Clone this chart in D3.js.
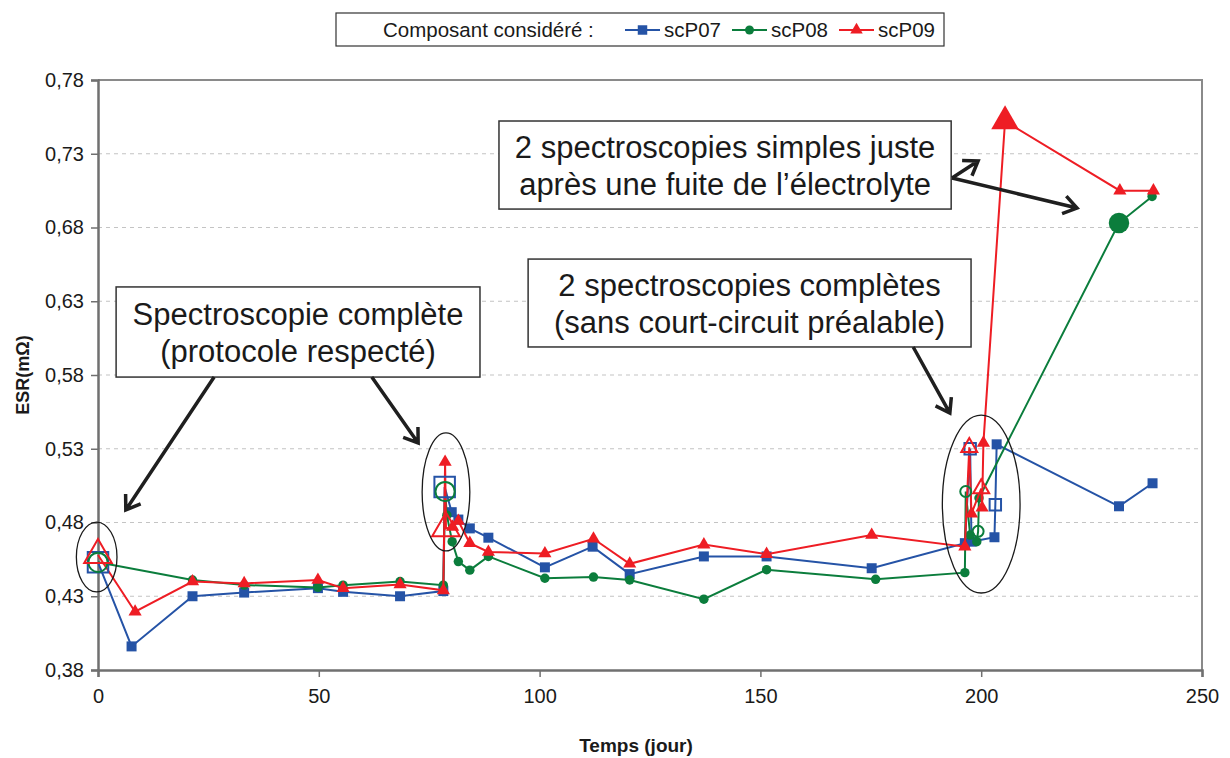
<!DOCTYPE html>
<html><head><meta charset="utf-8">
<script src="https://cdn.jsdelivr.net/npm/d3@7"></script>
<style>body{margin:0;background:#fff} svg{display:block;font-family:"Liberation Sans",Arial,sans-serif}</style>
</head><body><svg id="c" width="1230" height="758"></svg>
<script>
// ---------- data ----------
const xTicks = [0, 50, 100, 150, 200, 250];
const yTicks = [0.38, 0.43, 0.48, 0.53, 0.58, 0.63, 0.68, 0.73, 0.78];
const seriesNames = ["scP07", "scP08", "scP09"];
const legendTitle = "Composant considéré :";
const xTitle = "Temps (jour)";
const yTitle = "ESR(mΩ)";

const days07 = [0, 7.6, 21.4, 33.1, 49.8, 55.5, 68.4, 78.2, 78.5, 80.1, 81.6, 84.2, 88.4, 101.2, 112.0, 120.4, 137.2, 151.4, 175.2, 196.3, 197.5, 197.8, 203.0, 203.2, 203.5, 231.2, 238.8];
const esr07  = [0.453, 0.396, 0.430, 0.4325, 0.4355, 0.433, 0.430, 0.4335, 0.504, 0.487, 0.482, 0.476, 0.4697, 0.4496, 0.4636, 0.445, 0.457, 0.457, 0.449, 0.466, 0.530, 0.467, 0.470, 0.492, 0.533, 0.491, 0.5066];

const days08 = [0, 21.4, 33.1, 49.8, 55.5, 68.4, 78.2, 78.6, 79.0, 80.2, 81.6, 84.2, 88.4, 101.2, 112.2, 120.4, 137.2, 151.4, 176.1, 196.3, 196.5, 197.5, 199.0, 199.3, 199.5, 231.2, 238.7];
const esr08  = [0.453, 0.441, 0.4376, 0.436, 0.4375, 0.440, 0.4375, 0.501, 0.485, 0.467, 0.4535, 0.4477, 0.457, 0.4422, 0.443, 0.441, 0.428, 0.448, 0.4415, 0.446, 0.501, 0.4715, 0.467, 0.474, 0.4966, 0.683, 0.701];

const days09 = [0, 8.4, 21.4, 33.1, 49.8, 55.5, 68.4, 78.2, 78.6, 78.8, 80.3, 81.6, 84.2, 88.4, 101.2, 112.2, 120.4, 137.2, 151.4, 175.2, 196.3, 197.3, 197.8, 200.0, 200.2, 200.5, 205.4, 231.4, 239.0];
const esr09  = [0.458, 0.4195, 0.440, 0.4387, 0.441, 0.4355, 0.438, 0.434, 0.521, 0.476, 0.477, 0.481, 0.466, 0.460, 0.459, 0.469, 0.452, 0.465, 0.4585, 0.4715, 0.4636, 0.531, 0.486, 0.503, 0.490, 0.534, 0.752, 0.705, 0.705];

// indices of measurements that were complete spectroscopies (first campaign / last campaign)
const fullSpectroA07 = [0, 8],  fullSpectroB07 = [20, 23];
const fullSpectroA08 = [0, 7],  fullSpectroB08 = [20, 23];
const fullSpectroA09 = [0, 9],  fullSpectroB09 = [21, 23];
// indices of simple spectroscopies just after electrolyte leak
const leakSpectro07 = [], leakSpectro08 = [25], leakSpectro09 = [26];

const noteTexts = [
  ["Spectroscopie complète", "(protocole respecté)"],
  ["2 spectroscopies complètes", "(sans court-circuit préalable)"],
  ["2 spectroscopies simples juste", "après une fuite de l’électrolyte"]
];

// ---------- layout ----------
const colors = ["#2553a6", "#0b7d3c", "#ee1d24"];
const shapes = [d3.symbolSquare, d3.symbolCircle, d3.symbolTriangle];
const L = 98, R = 1202, T = 80, B = 670;
const svg = d3.select("#c");
const x = d3.scaleLinear().domain([0, 250]).range([L, R]);
const y = d3.scaleLinear().domain([0.38, 0.78]).range([B, T]);
const fmt = v => d3.format(".2f")(v).replace(".", ",");

svg.append("rect").attr("width", 1230).attr("height", 758).attr("fill", "#fff");

// grid
svg.append("g").selectAll("line").data(yTicks.slice(1)).join("line")
  .attr("x1", L).attr("x2", R).attr("y1", d => y(d)).attr("y2", d => y(d))
  .attr("stroke", "#c4c4c4").attr("stroke-width", 1.2).attr("stroke-dasharray", "4,4");

// plot frame (top/right)
svg.append("path").attr("d", `M${L},${T}H${R}V${B}`).attr("fill", "none")
  .attr("stroke", "#8a8a8a").attr("stroke-width", 2);

// axes
const gx = svg.append("g").attr("transform", `translate(0,${B})`)
  .call(d3.axisBottom(x).tickValues(xTicks).tickSize(7).tickPadding(12).tickFormat(d3.format("d")));
const gy = svg.append("g").attr("transform", `translate(${L},0)`)
  .call(d3.axisLeft(y).tickValues(yTicks).tickSize(7).tickPadding(7).tickFormat(fmt));
[gx, gy].forEach(g => {
  g.select(".domain").attr("stroke", "#707070").attr("stroke-width", 2.5);
  g.selectAll(".tick line").attr("stroke", "#707070").attr("stroke-width", 1.5);
  g.selectAll(".tick text").attr("fill", "#1a1a1a").attr("font-size", 20)
    .attr("font-family", '"Liberation Sans",Arial,sans-serif');
});

svg.append("text").attr("x", 636).attr("y", 752).attr("text-anchor", "middle")
  .attr("font-size", 19).attr("font-weight", "bold").attr("fill", "#1a1a1a").text(xTitle);
svg.append("text").attr("transform", "translate(29,375) rotate(-90)").attr("text-anchor", "middle")
  .attr("font-size", 18).attr("font-weight", "bold").attr("fill", "#1a1a1a").text(yTitle);

// series
const series = [
  {days: days07, esr: esr07, fullA: fullSpectroA07, fullB: fullSpectroB07, leak: leakSpectro07},
  {days: days08, esr: esr08, fullA: fullSpectroA08, fullB: fullSpectroB08, leak: leakSpectro08},
  {days: days09, esr: esr09, fullA: fullSpectroA09, fullB: fullSpectroB09, leak: leakSpectro09}
];
const normalSize = [100, 70, 75];
const bigHollow = [420, 290, 330];
const smallHollow = [130, 95, 110];
const bigFilled = [400, 330, 330];
const line = d3.line().x(d => x(d[0])).y(d => y(d[1]));

series.forEach((s, i) => {
  const pts = s.days.map((d, k) => [d, s.esr[k]]);
  const g = svg.append("g");
  g.append("path").attr("d", line(pts)).attr("fill", "none")
    .attr("stroke", colors[i]).attr("stroke-width", 2);
  const hollowIdx = new Set([...s.fullA, ...s.fullB]);
  const leakIdx = new Set(s.leak);
  g.selectAll("path.m").data(pts.filter((p, k) => !hollowIdx.has(k) && !leakIdx.has(k))).join("path")
    .attr("class", "m")
    .attr("transform", p => `translate(${x(p[0])},${y(p[1])})`)
    .attr("d", d3.symbol(shapes[i], normalSize[i]))
    .attr("fill", colors[i]);
  g.selectAll("path.lk").data(s.leak.map(k => pts[k])).join("path")
    .attr("class", "lk")
    .attr("transform", p => `translate(${x(p[0])},${y(p[1])})`)
    .attr("d", d3.symbol(shapes[i], bigFilled[i]))
    .attr("fill", colors[i]);
});
// hollow markers drawn on top
series.forEach((s, i) => {
  const g = svg.append("g");
  const pA = s.fullA.map(k => [s.days[k], s.esr[k]]);
  const pB = s.fullB.map(k => [s.days[k], s.esr[k]]);
  [[pA, bigHollow[i]], [pB, smallHollow[i]]].forEach(([ps, sz]) => {
    g.selectAll(null).data(ps).join("path")
      .attr("transform", p => `translate(${x(p[0])},${y(p[1])})`)
      .attr("d", d3.symbol(shapes[i], sz))
      .attr("fill", "none").attr("stroke", colors[i]).attr("stroke-width", 2);
  });
});

// ellipses (data coords)
const ellipses = [
  {cx: -0.3, cy: 0.4566, rx: 4.6, ry: 0.0237},
  {cx: 78.8, cy: 0.5007, rx: 5.4, ry: 0.040},
  {cx: 200.0, cy: 0.4925, rx: 8.8, ry: 0.0603}
];
svg.append("g").selectAll("ellipse").data(ellipses).join("ellipse")
  .attr("cx", d => x(d.cx)).attr("cy", d => y(d.cy))
  .attr("rx", d => x(d.rx) - x(0)).attr("ry", d => y(0) - y(d.ry))
  .attr("fill", "none").attr("stroke", "#1a1a1a").attr("stroke-width", 1.3);

// annotation boxes (data coords)
const boxes = [
  {x0: 4.1, x1: 86.5, y0: 0.6397, y1: 0.5786},
  {x0: 97.4, x1: 197.7, y0: 0.6586, y1: 0.599},
  {x0: 90.8, x1: 193.2, y0: 0.7522, y1: 0.6925}
];
boxes.forEach((b, i) => {
  const gx0 = x(b.x0), gx1 = x(b.x1), gy0 = y(b.y0), gy1 = y(b.y1);
  svg.append("rect").attr("x", gx0).attr("y", gy0).attr("width", gx1 - gx0).attr("height", gy1 - gy0)
    .attr("fill", "#fff").attr("stroke", "#333").attr("stroke-width", 1.5);
  const cx = (gx0 + gx1) / 2, cy = (gy0 + gy1) / 2;
  noteTexts[i].forEach((t, j) => {
    svg.append("text").attr("x", cx).attr("y", cy + (j - 0.5) * 37).attr("dy", "0.36em")
      .attr("text-anchor", "middle").attr("font-size", 31).attr("fill", "#1a1a1a").text(t);
  });
});

// arrows (data coords)
const arrows = [
  [26.3, 0.5786, 6.3, 0.4885],
  [62.0, 0.5786, 72.5, 0.5339],
  [184.6, 0.599, 192.9, 0.5542],
  [193.4, 0.7136, 199.3, 0.7251],
  [193.4, 0.7136, 221.7, 0.6932]
];
arrows.forEach(a => {
  const x1 = x(a[0]), y1 = y(a[1]), x2 = x(a[2]), y2 = y(a[3]);
  const ang = Math.atan2(y2 - y1, x2 - x1), len = 16, sp = 0.6;
  const hx1 = x2 - len * Math.cos(ang - sp), hy1 = y2 - len * Math.sin(ang - sp);
  const hx2 = x2 - len * Math.cos(ang + sp), hy2 = y2 - len * Math.sin(ang + sp);
  svg.append("path").attr("d", `M${x1},${y1}L${x2},${y2}M${hx1},${hy1}L${x2},${y2}L${hx2},${hy2}`)
    .attr("fill", "none").attr("stroke", "#1f1f1f").attr("stroke-width", 3.5)
    .attr("stroke-linejoin", "miter").attr("stroke-linecap", "butt");
});

// legend
const lg = svg.append("g");
lg.append("rect").attr("x", 336).attr("y", 13).attr("width", 608).attr("height", 33)
  .attr("fill", "#fff").attr("stroke", "#333").attr("stroke-width", 1.2);
lg.append("text").attr("x", 383).attr("y", 30).attr("dy", "0.36em").attr("font-size", 20.5)
  .attr("fill", "#1a1a1a").text(legendTitle);
const legX = [625, 732, 839];
seriesNames.forEach((n, i) => {
  lg.append("line").attr("x1", legX[i]).attr("x2", legX[i] + 35).attr("y1", 30).attr("y2", 30)
    .attr("stroke", colors[i]).attr("stroke-width", 2);
  lg.append("path").attr("transform", `translate(${legX[i] + 17.5},30)`)
    .attr("d", d3.symbol(shapes[i], normalSize[i] * 0.9)).attr("fill", colors[i]);
  lg.append("text").attr("x", legX[i] + 39).attr("y", 30).attr("dy", "0.36em").attr("font-size", 20.5)
    .attr("fill", "#1a1a1a").text(n);
});
</script></body></html>
